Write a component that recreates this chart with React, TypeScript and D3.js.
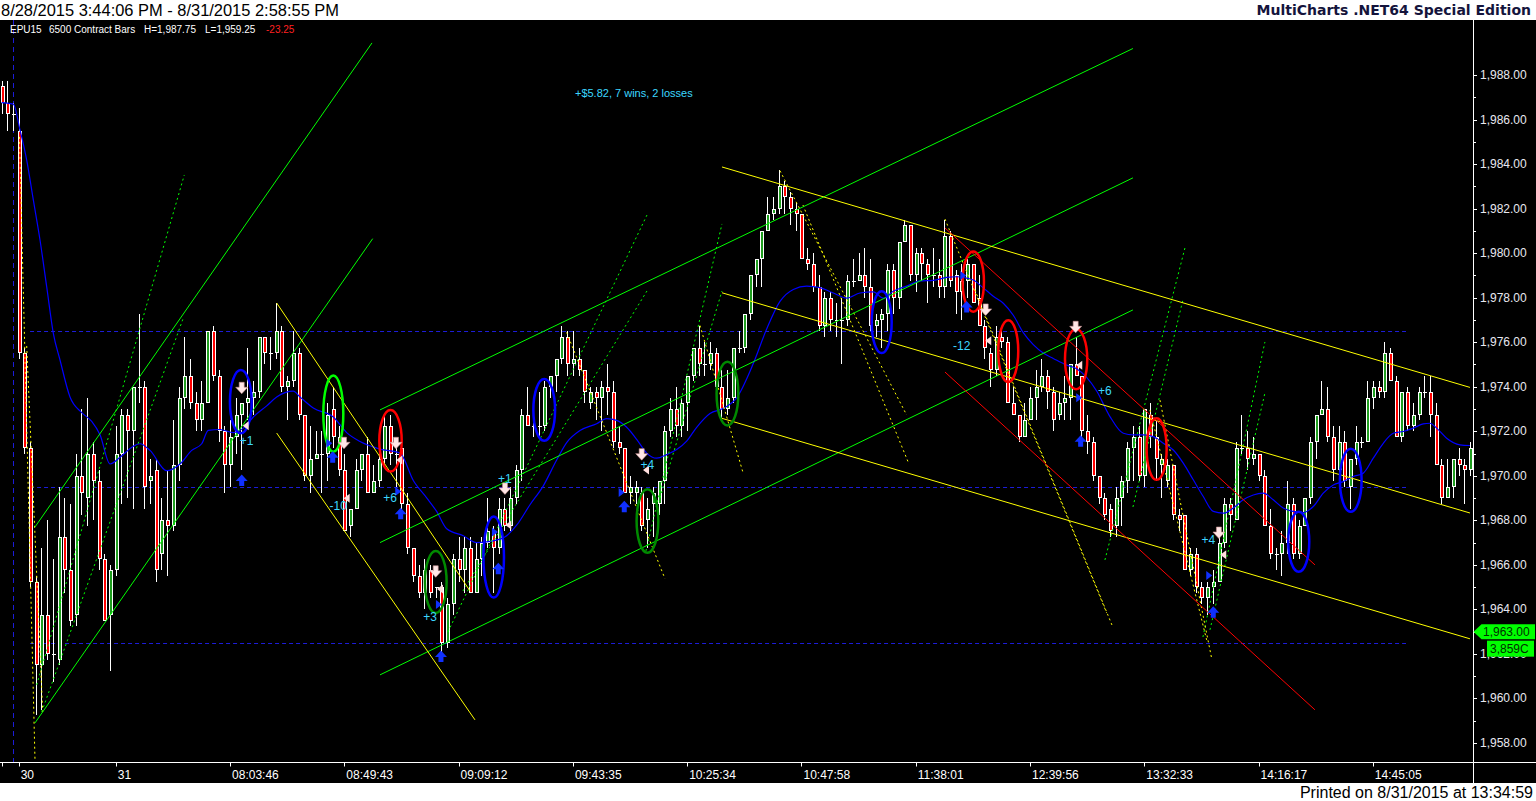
import React from 'react';
import * as d3 from 'd3';

// ---- bar data (EPU15, 6500 contract bars) ----
const opens = [
  1987.5, 1986.75, 1986.25, 1985.5, 1975.5, 1971.25, 1965.25, 1961.5, 1963.75, 1962.0,
  1961.75, 1967.25, 1965.75, 1963.75, 1970.0, 1969.0, 1971.0, 1969.75, 1966.25, 1963.75,
  1965.75, 1971.0, 1972.75, 1972.0, 1974.0, 1974.0, 1969.75, 1970.25, 1966.5, 1968.0,
  1967.75, 1970.5, 1973.5, 1974.5, 1973.25, 1972.5, 1973.25, 1976.5, 1974.5, 1972.0,
  1970.5, 1971.75, 1972.75, 1973.25, 1973.5, 1973.75, 1976.25, 1975.5, 1975.5, 1976.5,
  1974.0, 1974.25, 1975.5, 1972.75, 1970.0, 1970.75, 1971.0, 1971.0, 1973.0, 1971.75,
  1970.25, 1967.75, 1968.5, 1970.25, 1971.0, 1969.25, 1969.75, 1970.75, 1972.25, 1971.0,
  1971.25, 1968.75, 1966.75, 1965.5, 1964.75, 1965.75, 1965.0, 1965.0, 1962.5, 1964.25,
  1966.25, 1965.75, 1966.75, 1964.75, 1966.25, 1967.0, 1967.5, 1966.75, 1968.5, 1967.75,
  1969.0, 1970.25, 1972.75, 1972.25, 1972.25, 1972.25, 1974.0, 1974.5, 1975.25, 1976.25,
  1975.0, 1975.25, 1974.75, 1973.25, 1973.75, 1973.5, 1974.0, 1973.75, 1971.5, 1971.25,
  1969.25, 1969.25, 1969.25, 1968.0, 1968.75, 1968.75, 1969.75, 1972.0, 1973.0, 1972.25,
  1973.25, 1974.5, 1975.75, 1975.0, 1975.0, 1975.5, 1974.0, 1973.0, 1973.5, 1975.75,
  1975.75, 1977.25, 1979.0, 1979.75, 1981.0, 1981.75, 1982.0, 1983.0, 1982.5, 1982.0,
  1981.75, 1979.75, 1979.5, 1978.5, 1976.75, 1978.0, 1977.0, 1977.0, 1977.0, 1978.75,
  1978.75, 1979.0, 1978.5, 1976.75, 1977.0, 1977.25, 1979.25, 1978.0, 1980.5, 1981.25,
  1979.0, 1980.0, 1979.5, 1979.0, 1979.0, 1978.5, 1980.75, 1979.0, 1978.25, 1978.75,
  1979.5, 1978.0, 1976.75, 1975.5, 1974.75, 1976.25, 1976.0, 1973.25, 1972.75, 1971.75,
  1972.5, 1973.5, 1974.0, 1974.5, 1973.75, 1972.75, 1973.25, 1973.5, 1975.0, 1974.5,
  1972.0, 1971.5, 1970.0, 1969.0, 1968.5, 1967.75, 1969.0, 1969.75, 1971.25, 1971.75,
  1970.0, 1972.75, 1971.75, 1970.5, 1969.75, 1970.5, 1968.25, 1968.25, 1965.75, 1966.5,
  1965.0, 1964.5, 1965.0, 1965.25, 1967.0, 1968.75, 1968.0, 1971.25, 1971.25, 1970.75,
  1971.0, 1970.0, 1967.75, 1966.5, 1966.5, 1967.0, 1968.75, 1966.5, 1967.75, 1969.0,
  1971.5, 1972.75, 1973.0, 1971.75, 1970.25, 1971.5, 1969.5, 1970.75, 1971.5, 1971.5,
  1973.5, 1974.0, 1973.75, 1975.5, 1974.25, 1971.75, 1973.75, 1972.25, 1972.75, 1973.75,
  1973.75, 1972.75, 1970.5, 1969.0, 1969.5, 1970.75, 1970.5, 1970.25,
];
const highs = [
  1987.75, 1987.75, 1986.75, 1986.5, 1975.75, 1971.5, 1965.5, 1966.75, 1968.0, 1966.25,
  1969.5, 1969.0, 1968.75, 1971.0, 1973.0, 1973.5, 1971.5, 1970.25, 1966.5, 1966.0,
  1972.25, 1973.0, 1973.0, 1974.0, 1977.25, 1974.25, 1970.75, 1970.75, 1969.0, 1970.25,
  1972.5, 1974.0, 1976.25, 1975.25, 1973.75, 1974.25, 1976.5, 1976.75, 1974.75, 1972.25,
  1972.5, 1973.5, 1973.25, 1975.75, 1974.25, 1976.25, 1976.25, 1976.25, 1977.75, 1976.75,
  1974.5, 1976.5, 1975.75, 1972.75, 1972.25, 1972.0, 1972.0, 1973.25, 1974.0, 1972.25,
  1971.0, 1968.5, 1970.75, 1971.0, 1971.75, 1970.5, 1971.25, 1972.75, 1972.75, 1971.25,
  1971.25, 1969.25, 1966.75, 1966.0, 1966.25, 1966.0, 1965.0, 1965.25, 1964.5, 1966.5,
  1967.25, 1967.25, 1967.25, 1967.0, 1967.25, 1969.0, 1967.75, 1969.0, 1969.0, 1969.5,
  1970.5, 1973.0, 1974.0, 1973.25, 1973.75, 1974.25, 1974.5, 1975.25, 1976.75, 1976.5,
  1976.5, 1975.75, 1974.75, 1974.0, 1974.0, 1974.25, 1975.0, 1974.25, 1972.25, 1971.25,
  1970.0, 1969.75, 1969.5, 1969.0, 1969.5, 1969.75, 1972.25, 1973.5, 1974.0, 1973.5,
  1974.5, 1975.75, 1976.75, 1976.0, 1976.0, 1975.75, 1974.75, 1974.75, 1975.75, 1976.5,
  1977.25, 1979.0, 1979.75, 1981.0, 1982.5, 1982.5, 1983.75, 1983.25, 1982.75, 1982.25,
  1981.75, 1980.25, 1980.0, 1979.0, 1978.25, 1978.25, 1977.75, 1978.0, 1979.0, 1979.75,
  1980.0, 1980.25, 1979.75, 1977.25, 1977.5, 1979.5, 1979.5, 1980.5, 1981.5, 1981.25,
  1980.25, 1980.25, 1979.75, 1980.25, 1979.75, 1981.5, 1981.0, 1979.25, 1979.5, 1979.75,
  1979.5, 1979.0, 1977.0, 1975.75, 1976.75, 1976.5, 1976.25, 1974.0, 1972.75, 1973.25,
  1974.0, 1974.75, 1975.25, 1974.75, 1974.0, 1973.75, 1974.5, 1975.0, 1976.25, 1974.5,
  1972.75, 1971.75, 1970.0, 1969.25, 1968.75, 1969.5, 1970.0, 1971.5, 1972.25, 1972.25,
  1973.0, 1973.25, 1972.5, 1971.0, 1970.75, 1970.5, 1968.5, 1968.25, 1966.75, 1966.75,
  1965.25, 1965.25, 1965.75, 1967.5, 1969.0, 1969.0, 1971.5, 1972.75, 1972.0, 1971.75,
  1971.0, 1970.25, 1968.5, 1966.75, 1967.5, 1969.75, 1969.0, 1968.0, 1969.0, 1971.75,
  1972.75, 1974.25, 1974.0, 1972.25, 1972.25, 1972.0, 1970.75, 1972.25, 1971.75, 1974.25,
  1974.25, 1974.25, 1976.0, 1975.75, 1974.5, 1973.75, 1974.0, 1973.25, 1974.0, 1974.5,
  1974.5, 1973.25, 1970.75, 1970.75, 1970.75, 1971.25, 1970.75, 1971.5,
];
const lows = [
  1986.25, 1985.5, 1985.5, 1975.25, 1971.0, 1965.0, 1959.25, 1959.5, 1961.75, 1960.75,
  1961.5, 1964.75, 1963.25, 1963.25, 1968.25, 1967.75, 1968.0, 1965.75, 1963.5, 1961.25,
  1965.5, 1968.75, 1969.0, 1968.5, 1973.25, 1968.5, 1968.75, 1965.25, 1965.75, 1965.5,
  1967.5, 1969.75, 1973.0, 1973.0, 1972.0, 1972.0, 1973.25, 1974.25, 1971.5, 1969.25,
  1969.5, 1971.0, 1970.25, 1972.5, 1972.75, 1973.5, 1975.0, 1974.75, 1975.25, 1973.75,
  1972.5, 1974.0, 1972.5, 1969.75, 1969.25, 1970.75, 1969.25, 1969.75, 1971.25, 1970.0,
  1967.5, 1967.25, 1968.5, 1969.75, 1969.25, 1969.25, 1969.5, 1970.5, 1970.5, 1969.5,
  1968.5, 1966.5, 1965.25, 1964.5, 1964.0, 1964.5, 1964.5, 1962.0, 1962.25, 1963.75,
  1965.25, 1964.75, 1964.75, 1964.75, 1965.5, 1966.75, 1964.75, 1966.5, 1967.5, 1967.5,
  1968.75, 1969.75, 1972.25, 1971.75, 1971.75, 1972.0, 1973.5, 1973.75, 1975.0, 1974.5,
  1974.5, 1974.5, 1973.25, 1973.0, 1972.5, 1972.0, 1972.75, 1971.25, 1971.0, 1969.25,
  1968.75, 1968.75, 1967.5, 1966.75, 1967.25, 1968.25, 1968.75, 1971.75, 1971.75, 1971.75,
  1972.0, 1974.25, 1974.5, 1974.5, 1974.75, 1973.25, 1972.5, 1972.75, 1973.25, 1975.5,
  1975.5, 1977.0, 1978.5, 1978.5, 1981.0, 1981.5, 1981.75, 1981.75, 1981.25, 1981.0,
  1979.75, 1979.25, 1978.25, 1976.5, 1976.25, 1976.5, 1976.25, 1975.0, 1976.75, 1978.5,
  1978.75, 1978.0, 1976.5, 1976.25, 1975.75, 1976.5, 1977.25, 1977.5, 1980.5, 1978.75,
  1978.25, 1978.75, 1977.75, 1978.5, 1978.0, 1978.0, 1978.5, 1977.25, 1977.0, 1978.0,
  1977.75, 1976.75, 1975.25, 1974.0, 1974.5, 1975.75, 1973.25, 1972.75, 1971.5, 1971.75,
  1972.5, 1972.5, 1973.75, 1973.0, 1972.0, 1972.5, 1972.5, 1972.5, 1974.5, 1971.75,
  1971.0, 1969.75, 1968.75, 1968.0, 1967.25, 1967.25, 1967.75, 1969.25, 1969.75, 1969.75,
  1969.5, 1971.25, 1969.75, 1969.0, 1969.5, 1968.0, 1967.5, 1965.75, 1965.5, 1964.75,
  1964.25, 1963.75, 1964.25, 1965.25, 1966.75, 1967.5, 1968.0, 1971.0, 1970.25, 1970.5,
  1969.75, 1967.75, 1966.25, 1965.75, 1965.5, 1966.5, 1966.25, 1966.25, 1967.75, 1968.75,
  1970.75, 1972.75, 1971.5, 1969.75, 1969.75, 1969.5, 1968.5, 1970.5, 1971.25, 1971.5,
  1973.0, 1973.5, 1973.5, 1974.25, 1971.75, 1971.5, 1972.0, 1972.0, 1972.5, 1973.5,
  1971.75, 1970.5, 1968.75, 1969.0, 1969.0, 1970.0, 1968.75, 1970.0,
];
const closes = [
  1986.75, 1986.25, 1986.25, 1975.5, 1971.25, 1965.25, 1961.5, 1963.75, 1962.0, 1962.0,
  1967.25, 1965.75, 1963.5, 1970.0, 1969.25, 1971.0, 1969.75, 1966.25, 1963.5, 1965.75,
  1971.0, 1972.75, 1972.0, 1974.0, 1974.0, 1969.5, 1970.0, 1965.75, 1968.0, 1967.75,
  1970.5, 1973.5, 1974.5, 1973.25, 1972.5, 1973.25, 1976.5, 1974.5, 1972.0, 1970.5,
  1971.75, 1972.75, 1973.25, 1973.5, 1973.75, 1976.25, 1975.5, 1975.5, 1976.5, 1974.0,
  1974.25, 1975.5, 1972.75, 1970.0, 1970.75, 1971.0, 1971.0, 1972.75, 1971.75, 1970.25,
  1967.5, 1968.5, 1970.25, 1971.0, 1969.25, 1969.75, 1970.75, 1972.25, 1971.0, 1971.0,
  1968.75, 1966.75, 1965.5, 1964.75, 1965.75, 1964.75, 1965.0, 1962.5, 1964.25, 1966.25,
  1965.75, 1966.75, 1964.75, 1966.25, 1967.0, 1967.5, 1966.75, 1968.5, 1967.75, 1969.0,
  1970.25, 1972.75, 1972.25, 1972.25, 1972.25, 1974.0, 1974.5, 1975.25, 1976.25, 1975.0,
  1975.25, 1974.75, 1973.75, 1973.75, 1973.5, 1974.0, 1973.75, 1971.5, 1971.25, 1969.25,
  1969.5, 1969.5, 1967.75, 1968.5, 1969.25, 1969.75, 1972.0, 1973.0, 1972.25, 1973.25,
  1974.5, 1975.75, 1975.0, 1975.0, 1975.5, 1974.0, 1973.0, 1973.5, 1975.75, 1975.75,
  1977.25, 1979.0, 1979.75, 1981.0, 1981.75, 1982.0, 1983.0, 1982.5, 1982.0, 1981.75,
  1979.75, 1979.5, 1978.5, 1976.75, 1978.0, 1977.0, 1977.0, 1977.0, 1978.75, 1978.75,
  1979.0, 1978.5, 1976.75, 1977.0, 1977.25, 1979.25, 1978.0, 1980.5, 1981.25, 1979.0,
  1980.0, 1979.5, 1979.0, 1979.0, 1978.5, 1980.75, 1978.75, 1978.25, 1978.75, 1979.5,
  1977.75, 1976.75, 1975.75, 1974.75, 1976.25, 1976.0, 1973.25, 1972.75, 1971.75, 1972.5,
  1973.5, 1974.0, 1974.5, 1973.75, 1972.5, 1973.25, 1973.5, 1975.0, 1974.5, 1972.0,
  1971.5, 1970.0, 1969.0, 1968.25, 1967.5, 1969.0, 1969.75, 1971.25, 1971.75, 1970.0,
  1973.0, 1971.75, 1970.75, 1970.75, 1970.5, 1968.25, 1968.0, 1965.75, 1966.5, 1965.0,
  1964.5, 1965.0, 1965.25, 1967.0, 1968.75, 1968.25, 1971.25, 1971.25, 1970.75, 1971.0,
  1970.0, 1967.75, 1966.5, 1966.5, 1967.0, 1968.75, 1966.5, 1967.75, 1969.0, 1971.5,
  1972.75, 1973.0, 1971.75, 1970.25, 1971.5, 1969.75, 1970.75, 1971.5, 1971.5, 1973.5,
  1974.0, 1973.75, 1975.5, 1974.25, 1971.75, 1973.75, 1972.25, 1972.75, 1973.75, 1973.75,
  1972.75, 1970.5, 1969.0, 1969.5, 1970.75, 1970.5, 1970.25, 1971.25,
];

// ---- moving average (bar index, price) ----
const maBars = [
  0, 2.07, 3.24, 4.41, 5.57, 6.74, 7.91, 9.07, 10.24, 11.99, 14.04, 15.79, 17.24, 18.99, 20.74,
  23.07, 24.24, 25.99, 28.91, 31.24, 33.29, 35.04, 36.19, 38.24, 40.57, 42.32, 44.07, 46.41,
  48.16, 51.07, 52.24, 54.57, 58.07, 60.41, 62.74, 66.24, 69.74, 72.07, 74.41, 76.16, 77.91,
  80.82, 83.16, 86.07, 88.41, 90.16, 92.49, 94.82, 97.16, 98.91, 101.24, 104.16, 105.91,
  107.66, 109.41, 111.16, 112.91, 114.66, 116.41, 118.16, 119.91, 121.66, 123.99, 126.32,
  128.66, 131.57, 133.91, 136.24, 138.57, 140.91, 143.24, 145.57, 147.91, 150.24, 152.57,
  154.32, 156.07, 158.41, 160.74, 163.07, 165.41, 167.16, 168.91, 170.07, 171.82, 173.57,
  175.32, 177.07, 178.82, 180.57, 182.32, 184.07, 186.41, 188.16, 189.91, 191.66, 193.99,
  196.32, 198.07, 199.82, 201.57, 203.32, 205.07, 206.82, 208.57, 210.32, 212.07, 213.82,
  215.57, 217.32, 219.07, 220.82, 222.57, 224.32, 226.07, 227.82, 229.57, 231.32, 233.07,
  234.82, 236.57, 238.32, 240.07, 241.82, 243.57, 245.32, 247.07, 248.82, 249.99, 251.16,
  252.91, 255.24, 257,
];
const maValues = [
  1986.76, 1986.69, 1985.53, 1984.18, 1982.39, 1980.59, 1978.49, 1976.4, 1975.2, 1973.54,
  1972.84, 1972.44, 1971.84, 1970.53, 1970.83, 1971.33, 1971.44, 1971.14, 1970.23, 1970.53,
  1971.14, 1971.44, 1972.04, 1972.08, 1971.94, 1972.14, 1972.64, 1973.14, 1973.54, 1973.8,
  1973.54, 1973.04, 1972.64, 1971.94, 1971.54, 1971.2, 1971.02, 1969.79, 1969.01, 1968.4,
  1967.62, 1967.31, 1967.0, 1967.08, 1967.31, 1967.78, 1968.7, 1969.55, 1970.71, 1971.49,
  1972.03, 1972.34, 1972.57, 1972.49, 1972.18, 1971.64, 1971.02, 1970.79, 1970.95, 1971.18,
  1971.56, 1972.18, 1972.8, 1973.03, 1973.5, 1975.04, 1976.59, 1977.83, 1978.37, 1978.52,
  1978.45, 1978.21, 1977.98, 1978.21, 1978.26, 1977.98, 1978.29, 1978.52, 1978.75, 1978.78,
  1978.91, 1978.94, 1978.88, 1978.79, 1978.44, 1978.06, 1977.75, 1977.21, 1976.43, 1975.89,
  1975.51, 1975.27, 1974.97, 1974.81, 1974.42, 1973.81, 1972.66, 1971.91, 1971.84, 1971.84,
  1971.76, 1971.46, 1971.16, 1970.57, 1969.82, 1969.07, 1968.4, 1968.32, 1968.55, 1968.92,
  1969.14, 1969.22, 1968.92, 1968.55, 1968.4, 1968.35, 1968.62, 1969.22, 1969.59, 1969.74,
  1969.97, 1970.12, 1970.79, 1971.46, 1971.91, 1971.99, 1972.14, 1972.33, 1972.36, 1972.14,
  1971.69, 1971.39, 1971.36,
];

// ---- drawing objects [bar1, price1, bar2, price2] ----
const greenLines = [
  [5.86, 1967.7, 64.84, 1989.44],
  [5.86, 1958.9, 64.96, 1980.65],
  [66.24, 1972.96, 198.01, 1989.19],
  [66.24, 1967.0, 198.01, 1983.38],
  [66.24, 1961.06, 198.01, 1977.45],
];
const yellowLines = [
  [48.16, 1977.76, 81.99, 1964.83],
  [48.16, 1971.92, 82.86, 1959.04],
  [126.09, 1983.87, 256.99, 1973.97],
  [126.09, 1978.22, 256.99, 1968.33],
  [126.09, 1972.58, 256.99, 1962.68],
];
const redLines = [
  [165.12, 1981.13, 229.86, 1966.0],
  [165.12, 1974.66, 229.86, 1959.49],
];
const greenDotted = [
  [6.16, 1960.61, 31.99, 1983.51],
  [7.04, 1959.4, 31.82, 1977.09],
  [78.14, 1962.99, 112.96, 1981.71],
  [80.76, 1964.83, 112.96, 1978.3],
  [112.79, 1966.63, 126.09, 1981.31],
  [115.24, 1969.01, 126.09, 1978.3],
  [193.11, 1966.22, 207.11, 1980.23],
  [198.01, 1968.6, 206.76, 1977.9],
  [210.26, 1962.76, 221.11, 1976.01],
  [211.49, 1963.08, 221.11, 1973.72],
];
const yellowDotted = [
  [3.15, 1985.22, 5.86, 1957.24],
  [4.41, 1975.83, 7.21, 1959.4],
  [98.91, 1976.44, 116.11, 1965.38],
  [122.24, 1976.75, 129.82, 1970.1],
  [136.24, 1983.7, 158.41, 1972.73],
  [140.26, 1982.16, 158.64, 1970.64],
  [165.12, 1981.53, 193.41, 1963.84],
  [170.36, 1978.35, 194.34, 1963.3],
  [200.99, 1972.96, 210.91, 1962.63],
  [202.74, 1973.4, 211.84, 1961.73],
];
const sessionLevels = [1976.5, 1969.5, 1962.5];

// ---- signal ellipses [bar, price, halfBars, halfPrice, color] ----
const ellipses: [number, number, number, number, string][] = [
  [41.88, 1973.33, 1.9, 1.42, '#0000ff'],
  [58.07, 1972.79, 1.75, 1.71, '#00ff00'],
  [68.08, 1971.57, 1.96, 1.38, '#ff0000'],
  [76.0, 1965.23, 1.9, 1.39, '#008a00'],
  [86.14, 1966.35, 1.8, 1.82, '#0000ff'],
  [94.98, 1972.96, 1.9, 1.39, '#0000ff'],
  [113.05, 1967.97, 1.9, 1.43, '#008a00'],
  [127.05, 1973.69, 1.9, 1.43, '#008a00'],
  [154.04, 1976.9, 1.75, 1.39, '#0000ff'],
  [170.07, 1978.72, 1.87, 1.35, '#ff0000'],
  [176.19, 1975.6, 1.75, 1.39, '#ff0000'],
  [188.07, 1975.24, 1.95, 1.35, '#ff0000'],
  [202.16, 1971.2, 1.75, 1.38, '#ff0000'],
  [227.03, 1967.04, 1.84, 1.35, '#0000ff'],
  [236.13, 1969.8, 1.9, 1.42, '#0000ff'],
];

// ---- trade markers [bar, price] ----
const exitArrows = [
  [42.04, 1973.93], [59.94, 1971.46], [69.04, 1971.46], [75.99, 1965.69], [88.11, 1969.41],
  [112.04, 1970.95], [172.24, 1977.45], [187.99, 1976.67], [213.06, 1967.43],
];
const exitTicks = [
  [42.74, 1972.25], [60.41, 1968.99], [69.62, 1970.71], [76.74, 1964.92], [88.69, 1967.79],
  [112.79, 1970.26], [172.69, 1976.06], [188.62, 1974.97], [213.82, 1966.45],
];
const entryTicks = [
  [57.37, 1971.46], [69.44, 1969.29], [76.56, 1964.22], [86.36, 1967.48], [108.54, 1969.25],
  [168.32, 1978.99], [188.62, 1973.5], [211.37, 1965.52],
];
const entryArrows = [
  [42.04, 1969.81], [57.96, 1970.86], [69.86, 1968.32], [76.91, 1961.91], [86.94, 1965.85],
  [108.99, 1968.63], [168.91, 1977.6], [188.86, 1971.57], [212.07, 1963.9],
];
const profitLabels = ['+1', '-10', '+6', '+3', '+1', '+4', '-12', '+6', '+4'];
const profitBars = [42.91, 58.94, 67.99, 74.99, 88.11, 113.02, 168.04, 193.11, 211.19];
const profitPrices = [1971.57, 1968.66, 1968.99, 1963.64, 1969.86, 1970.49, 1975.82, 1973.81, 1967.12];

// ---- axes ----
const timeTickBars = [0, 3, 20, 40, 60, 80, 100, 120, 140, 160, 180, 200, 220, 240];
const timeTickLabels = ['', '30', '31', '08:03:46', '08:49:43', '09:09:12', '09:43:35', '10:25:34',
  '10:47:58', '11:38:01', '12:39:56', '13:32:33', '14:16:17', '14:45:05'];
const priceTicks = [1958, 1960, 1962, 1964, 1966, 1968, 1970, 1972, 1974, 1976, 1978, 1980, 1982, 1984, 1986, 1988];

const W = 1536;
const H = 801;
const plotTop = 20;
const axisY = 762.5;
const axisX = 1473.5;
const FONT = 'Liberation Sans, Arial, sans-serif';

export default function App() {
  const x = d3.scaleLinear().domain([0, 257]).range([1.5, 1470]);
  const y = d3.scaleLinear().domain([1958, 1988]).range([743, 75]);
  const fmt = d3.format(',.2f');
  const maLine = d3.line<number>()
    .x((_, i) => x(maBars[i]))
    .y(d => y(d))
    .curve(d3.curveMonotoneX);

  const seg = (d: number[], i: number, color: string, dash?: string, w = 1) => (
    <line key={i} x1={x(d[0])} y1={y(d[1])} x2={x(d[2])} y2={y(d[3])}
      stroke={color} strokeWidth={w} strokeDasharray={dash} />
  );

  return (
    <div style={{ position: 'absolute', left: 0, top: 0 }}>
      <svg width={W} height={H} style={{ display: 'block', fontFamily: FONT }}>
        <defs>
          <clipPath id="plot">
            <rect x={0} y={plotTop} width={axisX} height={axisY - plotTop} />
          </clipPath>
        </defs>
        <rect width={W} height={H} fill="#000" />
        {/* header / footer */}
        <rect x={0} y={0} width={W} height={plotTop} fill="#fff" />
        <text x={1} y={15.5} fontSize={16} fill="#000" textLength={338} lengthAdjust="spacingAndGlyphs">
          8/28/2015 3:44:06 PM - 8/31/2015 2:58:55 PM
        </text>
        <text x={1531} y={15} fontSize={14} fontWeight="bold" fill="#14143c" textAnchor="end"
          fontFamily="DejaVu Sans, sans-serif">
          MultiCharts .NET64 Special Edition
        </text>
        <rect x={0} y={783} width={W} height={H - 783} fill="#fff" />
        <text x={1533} y={797.5} fontSize={16} fill="#000" textAnchor="end">
          Printed on 8/31/2015 at 13:34:59
        </text>

        <g clipPath="url(#plot)">
          {/* session levels */}
          {sessionLevels.map((p, i) => (
            <line key={i} x1={x(5)} x2={x(245.8)} y1={Math.round(y(p)) + 0.5} y2={Math.round(y(p)) + 0.5}
              stroke="#1c1cd8" strokeDasharray="4,3" />
          ))}
          <line x1={Math.round(x(2)) + 0.5} x2={Math.round(x(2)) + 0.5} y1={plotTop} y2={axisY}
            stroke="#1c1cd8" strokeDasharray="5,4" />

          {/* candles */}
          <g shapeRendering="crispEdges">
            {opens.map((o, i) => {
              const c = closes[i];
              const cx = Math.round(x(i));
              const top = Math.round(y(Math.max(o, c)));
              const bot = Math.round(y(Math.min(o, c)));
              const fill = c > o ? '#1f9e1f' : c < o ? '#ff0000' : '#ffffff';
              return (
                <g key={i}>
                  <line x1={cx + 0.5} x2={cx + 0.5} y1={y(highs[i])} y2={y(lows[i])} stroke="#fff" />
                  {bot - top >= 3 ? (
                    <rect x={cx - 0.5} y={top + 0.5} width={3} height={bot - top - 1}
                      fill={fill} stroke="#fff" strokeWidth={1} />
                  ) : (
                    <rect x={cx - 1} y={top} width={4} height={Math.max(1, bot - top)} fill="#fff" />
                  )}
                </g>
              );
            })}
          </g>

          {/* moving average */}
          <path d={maLine(maValues) || ''} fill="none" stroke="#0000ff" strokeWidth={1.2} />

          {/* drawing tools */}
          {greenDotted.map((d, i) => seg(d, i, '#00ff00', '2,3'))}
          {yellowDotted.map((d, i) => seg(d, i, '#ffff00', '2,3'))}
          {greenLines.map((d, i) => seg(d, i, '#00ff00'))}
          {yellowLines.map((d, i) => seg(d, i, '#ffff00'))}
          {redLines.map((d, i) => seg(d, i, '#ff0000'))}

          {/* ellipses */}
          {ellipses.map((e, i) => (
            <ellipse key={i} cx={x(e[0])} cy={y(e[1])} rx={x(e[0] + e[2]) - x(e[0])}
              ry={y(e[1] - e[3]) - y(e[1])} fill="none" stroke={e[4]} strokeWidth={2.5} />
          ))}

          {/* trade markers */}
          {exitArrows.map((d, i) => {
            const cx = x(d[0]), cy = y(d[1]);
            return (
              <path key={i} d={`M${cx - 2.5},${cy - 6}h5v5h3.5l-6,6.5l-6,-6.5h3.5z`}
                fill="#ffe6e6" stroke="#c89090" strokeWidth={0.6} />
            );
          })}
          {exitTicks.map((d, i) => {
            const cx = x(d[0]), cy = y(d[1]);
            return <path key={i} d={`M${cx - 3},${cy}L${cx + 3},${cy - 4.5}L${cx + 3},${cy + 4.5}z`} fill="#ffdede" />;
          })}
          {entryTicks.map((d, i) => {
            const cx = x(d[0]), cy = y(d[1]);
            return <path key={i} d={`M${cx + 3},${cy}L${cx - 3},${cy - 4.5}L${cx - 3},${cy + 4.5}z`} fill="#1030ff" />;
          })}
          {entryArrows.map((d, i) => {
            const cx = x(d[0]), cy = y(d[1]);
            return (
              <path key={i} d={`M${cx - 2.5},${cy + 6}h5v-5h3.5l-6,-6.5l-6,6.5h3.5z`} fill="#1030ff" />
            );
          })}
          {profitLabels.map((t, i) => (
            <text key={i} x={x(profitBars[i])} y={y(profitPrices[i])} fontSize={12} fill="#3cd7ff"
              textAnchor="middle" dominantBaseline="central">{t}</text>
          ))}

          <text x={x(100.36)} y={y(1987.19)} fontSize={11} fill="#3cd7ff" dominantBaseline="central">
            +$5.82, 7 wins, 2 losses
          </text>
        </g>

        {/* legend */}
        <text y={33} fontSize={10} fill="#fff">
          <tspan x={10}>EPU15</tspan>
          <tspan x={49}>6500 Contract Bars</tspan>
          <tspan x={144}>H=1,987.75</tspan>
          <tspan x={205}>L=1,959.25</tspan>
          <tspan x={266} fill="#ff2020">-23.25</tspan>
        </text>

        {/* price axis */}
        <line x1={axisX} x2={axisX} y1={plotTop} y2={783} stroke="#fff" />
        {d3.range(1959, 1988, 2).map(p => (
          <line key={p} x1={axisX} x2={axisX + 2.5} y1={Math.round(y(p)) + 0.5} y2={Math.round(y(p)) + 0.5} stroke="#fff" />
        ))}
        {priceTicks.map(p => (
          <g key={p}>
            <line x1={axisX} x2={axisX + 3.5} y1={Math.round(y(p)) + 0.5} y2={Math.round(y(p)) + 0.5} stroke="#fff" />
            <text x={1480} y={y(p)} fontSize={12} fill="#e8e8f0" dominantBaseline="central">{fmt(p)}</text>
          </g>
        ))}
        {/* last price tags */}
        <path d={`M${axisX},${y(1963)}L${axisX + 8},${y(1963) - 7.5}L1535,${y(1963) - 7.5}L1535,${y(1963) + 7.5}L${axisX + 8},${y(1963) + 7.5}z`}
          fill="#00ff00" />
        <text x={1483} y={y(1963) + 0.5} fontSize={12} fill="#003000" dominantBaseline="central">1,963.00</text>
        <rect x={1487} y={y(1963) + 9} width={47} height={16} fill="#00ff00" />
        <text x={1490} y={y(1963) + 17.5} fontSize={12} fill="#003000" dominantBaseline="central">3,859C</text>

        {/* time axis */}
        <line x1={0} x2={W} y1={axisY} y2={axisY} stroke="#fff" />
        {timeTickBars.map((b, i) => (
          <g key={i}>
            <line x1={Math.round(x(b)) + 0.5} x2={Math.round(x(b)) + 0.5} y1={axisY} y2={axisY + 4} stroke="#fff" />
            <text x={x(b) + 2} y={775} fontSize={12} fill="#fff" dominantBaseline="central">{timeTickLabels[i]}</text>
          </g>
        ))}
      </svg>
    </div>
  );
}
